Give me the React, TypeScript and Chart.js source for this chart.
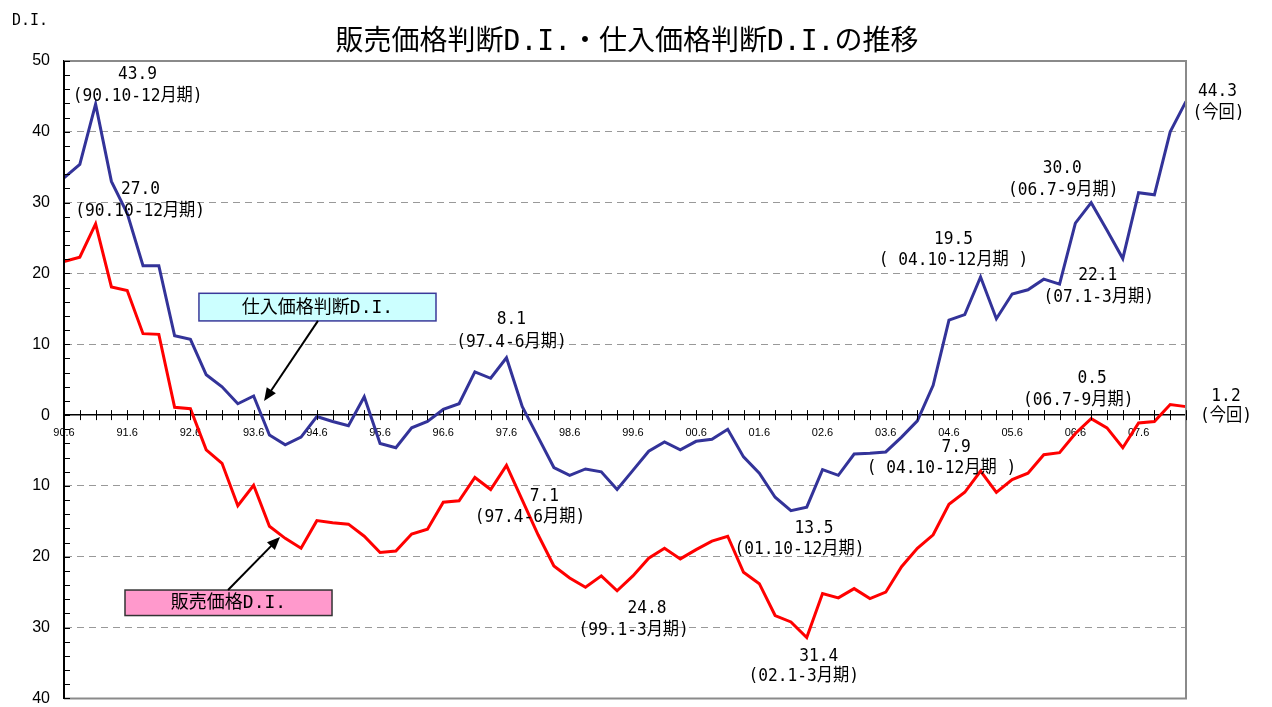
import React, { useEffect, useRef } from 'react';
import { Chart, registerables } from 'chart.js';

Chart.register(...registerables);

// Year tick labels (every 4th quarter, starting 90.4-6)
const tickLabels = [
  '90.6', '91.6', '92.6', '93.6', '94.6', '95.6', '96.6', '97.6', '98.6',
  '99.6', '00.6', '01.6', '02.6', '03.6', '04.6', '05.6', '06.6', '07.6',
];

// 仕入価格判断D.I. (purchase price D.I.)
const purchaseDI = [
  33.5, 35.4, 43.9, 33.0, 28.5, 21.1, 21.1, 11.2, 10.7, 5.7, 4.0, 1.6,
  2.7, -2.8, -4.2, -3.1, -0.2, -0.9, -1.5, 2.6, -4.0, -4.6, -1.8, -0.9,
  0.8, 1.6, 6.1, 5.2, 8.1, 1.2, -3.1, -7.4, -8.5, -7.6, -8.0, -10.5,
  -7.8, -5.1, -3.8, -4.9, -3.7, -3.4, -2.0, -5.9, -8.2, -11.6, -13.5, -13.0,
  -7.7, -8.5, -5.5, -5.4, -5.2, -3.1, -0.8, 4.2, 13.4, 14.2, 19.5, 13.6,
  17.1, 17.7, 19.2, 18.5, 27.1, 30.0, 26.1, 22.1, 31.4, 31.1, 40.0, 44.3,
];

// 販売価格判断D.I. (sales price D.I.)
const salesDI = [
  21.7, 22.3, 27.0, 18.1, 17.6, 11.5, 11.4, 1.1, 0.9, -4.9, -6.8, -12.8,
  -9.9, -15.7, -17.4, -18.8, -14.9, -15.2, -15.4, -17.1, -19.4, -19.2, -16.8, -16.1,
  -12.3, -12.1, -8.8, -10.5, -7.1, -12.0, -16.9, -21.3, -23.0, -24.3, -22.7, -24.8,
  -22.7, -20.2, -18.8, -20.3, -19.0, -17.8, -17.1, -22.2, -23.8, -28.3, -29.2, -31.4,
  -25.2, -25.8, -24.5, -25.9, -25.0, -21.4, -18.8, -16.9, -12.6, -10.9, -7.9, -10.9,
  -9.1, -8.2, -5.6, -5.3, -2.6, -0.5, -1.8, -4.6, -1.1, -0.9, 1.5, 1.2,
];

const categories = purchaseDI.map((_, i) => (i % 4 === 0 ? tickLabels[i / 4] : ''));

// Annotated points: series, index, period text, offsets (value label / period label)
const annSeries = ['p', 's', 'p', 's', 's', 'p', 's', 'p', 's', 'p', 'p', 's', 'p', 's'];
const annIndex = [2, 2, 28, 28, 35, 46, 47, 58, 58, 65, 67, 65, 71, 71];
const annPeriod = [
  '(90.10-12月期)', '(90.10-12月期)', '(97.4-6月期)', '(97.4-6月期)', '(99.1-3月期)',
  '(01.10-12月期)', '(02.1-3月期)', '( 04.10-12月期 )', '( 04.10-12月期 )',
  '(06.7-9月期)', '(07.1-3月期)', '(06.7-9月期)', '(今回)', '(今回)',
];
const annOffsets = [
  [42, -30, 42, -8],
  [45, -35, 44.5, -13],
  [5, -38, 5, -15],
  [38, 31, 23.5, 52],
  [30, 18, 16.5, 40],
  [23, 18, 8.5, 38.5],
  [12, 19, -3, 39],
  [-27, -38, -27, -17],
  [-24.5, -24, -39, -3],
  [-29, -34, -28, -12.6],
  [-25, 17, -24, 39],
  [1, -40, -13, -18.5],
  [31.5, -10, 32.5, 12],
  [40, -10, 40, 10],
];

const TITLE = '販売価格判断D.I.・仕入価格判断D.I.の推移';
const MONO = "'DejaVu Sans Mono', 'Noto Sans CJK JP', monospace";
const SANS = "'Liberation Sans', Arial, sans-serif";

const overlayPlugin = {
  id: 'overlay',
  afterDatasetsDraw(chart: any) {
    const { ctx, chartArea } = chart;
    const xs = chart.scales.x;
    const ys = chart.scales.y;
    const { left, right, top, bottom } = chartArea;
    ctx.save();

    // frame (top, right, bottom) in gray
    ctx.strokeStyle = '#8a8a8a';
    ctx.lineWidth = 2;
    ctx.beginPath();
    ctx.moveTo(left, top);
    ctx.lineTo(right, top);
    ctx.lineTo(right, bottom);
    ctx.lineTo(left, bottom);
    ctx.stroke();

    // left axis
    ctx.strokeStyle = '#000';
    ctx.lineWidth = 2;
    ctx.beginPath();
    ctx.moveTo(left, top);
    ctx.lineTo(left, bottom);
    ctx.stroke();

    // y minor ticks inward every 2
    ctx.lineWidth = 1;
    for (let v = -40; v <= 50; v += 2) {
      const y = Math.round(ys.getPixelForValue(v)) + 0.5;
      ctx.beginPath();
      ctx.moveTo(left, y);
      ctx.lineTo(left + 6, y);
      ctx.stroke();
    }

    // x ticks crossing the zero axis
    const y0 = ys.getPixelForValue(0);
    for (let i = 0; i < categories.length; i++) {
      const x = Math.round(xs.getPixelForValue(i)) + 0.5;
      ctx.beginPath();
      ctx.moveTo(x, y0 - 5);
      ctx.lineTo(x, y0 + 5);
      ctx.stroke();
    }

    // annotation boxes & arrows (positions in data coordinates)
    const px = (i: number) => xs.getPixelForValue(i);
    const py = (v: number) => ys.getPixelForValue(v);

    const drawBox = (i0: number, i1: number, v0: number, v1: number, fill: string, stroke: string, text: string) => {
      const x0 = px(i0), x1 = px(i1), yA = py(v0), yB = py(v1);
      ctx.fillStyle = fill;
      ctx.fillRect(x0, yA, x1 - x0, yB - yA);
      ctx.strokeStyle = stroke;
      ctx.lineWidth = 1.5;
      ctx.strokeRect(x0, yA, x1 - x0, yB - yA);
      ctx.fillStyle = '#000';
      ctx.font = `18px ${MONO}`;
      ctx.textAlign = 'center';
      ctx.textBaseline = 'middle';
      ctx.fillText(text, (x0 + x1) / 2, (yA + yB) / 2 + 1);
    };
    const drawArrow = (i0: number, v0: number, i1: number, v1: number) => {
      const x0 = px(i0), yA = py(v0), x1 = px(i1), yB = py(v1);
      const ang = Math.atan2(yB - yA, x1 - x0);
      const hl = 13, hw = 5.5;
      ctx.strokeStyle = '#000';
      ctx.fillStyle = '#000';
      ctx.lineWidth = 2;
      ctx.beginPath();
      ctx.moveTo(x0, yA);
      ctx.lineTo(x1 - Math.cos(ang) * hl * 0.8, yB - Math.sin(ang) * hl * 0.8);
      ctx.stroke();
      ctx.beginPath();
      ctx.moveTo(x1, yB);
      ctx.lineTo(x1 - Math.cos(ang) * hl - Math.sin(ang) * hw, yB - Math.sin(ang) * hl + Math.cos(ang) * hw);
      ctx.lineTo(x1 - Math.cos(ang) * hl + Math.sin(ang) * hw, yB - Math.sin(ang) * hl - Math.cos(ang) * hw);
      ctx.closePath();
      ctx.fill();
    };

    drawBox(8.54, 23.54, 17.2, 13.3, '#ccffff', '#3a3a9a', '仕入価格判断D.I.');
    drawArrow(16.07, 13.3, 12.66, 1.98);
    drawBox(3.86, 16.96, -24.7, -28.3, '#ff99cc', '#333333', '販売価格D.I.');
    drawArrow(10.38, -24.7, 13.67, -17.2);

    // value annotations
    const drawText = (text: string, cx: number, cy: number, size: number, sx: number) => {
      ctx.save();
      ctx.translate(cx, cy);
      ctx.scale(sx, 1);
      ctx.font = `${size}px ${MONO}`;
      ctx.textAlign = 'center';
      ctx.textBaseline = 'middle';
      ctx.fillStyle = '#000';
      ctx.fillText(text, 0, 0);
      ctx.restore();
    };
    for (let k = 0; k < annIndex.length; k++) {
      const idx = annIndex[k];
      const v = annSeries[k] === 'p' ? purchaseDI[idx] : salesDI[idx];
      const x = px(idx), y = py(v);
      const [dx, dy, pdx, pdy] = annOffsets[k];
      drawText(Math.abs(v).toFixed(1), x + dx, y + dy, 18, 0.9);
      drawText(annPeriod[k], x + pdx, y + pdy, 18, 0.9);
    }

    // title and unit
    ctx.fillStyle = '#000';
    ctx.font = `28px ${MONO}`;
    ctx.textAlign = 'center';
    ctx.textBaseline = 'middle';
    ctx.fillText(TITLE, (left + right) / 2 + 2, 43);
    ctx.font = `15px ${MONO}`;
    ctx.textAlign = 'left';
    ctx.fillText('D.I.', 12, 21);

    ctx.restore();
  },
};

// canvas is a little taller than the window; the zero-positioned x axis
// reserves its label height at the bottom, which falls below the visible page
const CANVAS_W = 1272;
const CANVAS_H = 722;

export default function App() {
  const canvasRef = useRef<HTMLCanvasElement | null>(null);

  useEffect(() => {
    const canvas = canvasRef.current;
    if (!canvas) return;
    const chart = new Chart(canvas, {
      type: 'line',
      data: {
        labels: categories,
        datasets: [
          {
            label: '仕入価格判断D.I.',
            data: purchaseDI,
            borderColor: '#333399',
            backgroundColor: '#333399',
            borderWidth: 3,
            pointRadius: 0,
            tension: 0,
          },
          {
            label: '販売価格判断D.I.',
            data: salesDI,
            borderColor: '#ff0000',
            backgroundColor: '#ff0000',
            borderWidth: 3,
            pointRadius: 0,
            tension: 0,
          },
        ],
      },
      options: {
        responsive: false,
        animation: false,
        devicePixelRatio: 1,
        layout: { padding: { left: 0, right: 86, top: 61, bottom: 9 } },
        plugins: {
          legend: { display: false },
          title: { display: false },
          tooltip: { enabled: false },
        },
        scales: {
          x: {
            type: 'category',
            position: { y: 0 },
            grid: { display: false, drawTicks: false },
            border: { display: true, color: '#000', width: 1.5 },
            ticks: {
              autoSkip: false,
              maxRotation: 0,
              minRotation: 0,
              padding: 11,
              color: '#000',
              font: { family: SANS, size: 11 },
            },
          },
          y: {
            type: 'linear',
            position: 'left',
            min: -40,
            max: 50,
            afterFit: (scale: any) => {
              scale.width = 64;
            },
            ticks: {
              stepSize: 10,
              padding: 14,
              color: '#000',
              font: { family: SANS, size: 16 },
              callback: (v: any) => String(Math.abs(Number(v))),
            },
            grid: {
              drawTicks: false,
              color: (c: any) => {
                const v = c.tick ? c.tick.value : null;
                return v === 0 || v === 50 || v === -40 ? 'rgba(0,0,0,0)' : '#999999';
              },
              lineWidth: 1,
            },
            border: { display: true, color: '#000', width: 2, dash: [7, 5] },
          },
        },
      },
      plugins: [overlayPlugin],
    } as any);
    return () => chart.destroy();
  }, []);

  return (
    <div style={{ position: 'absolute', left: 0, top: 0, width: 1272, height: 707, overflow: 'hidden', background: '#fff' }}>
      <canvas ref={canvasRef} width={CANVAS_W} height={CANVAS_H} style={{ display: 'block' }} />
    </div>
  );
}
